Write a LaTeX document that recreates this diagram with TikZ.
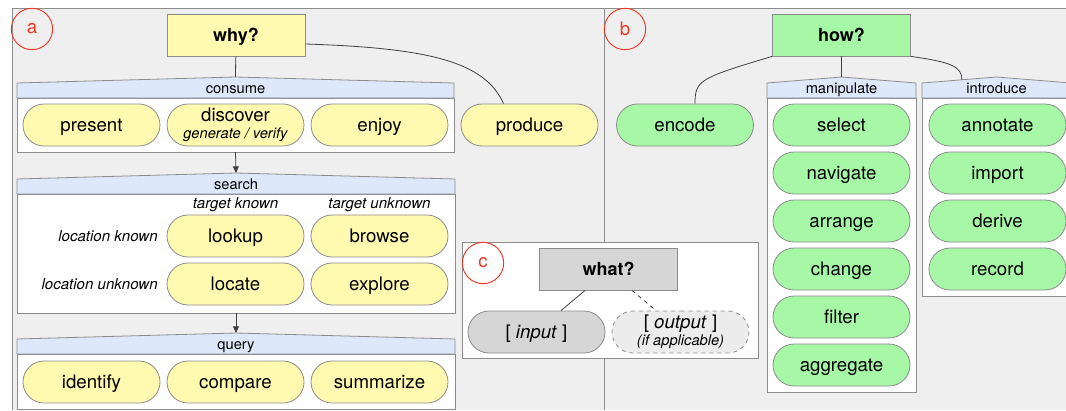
\documentclass[tikz,border=0pt]{standalone}
\usepackage{fontspec}
\setmainfont{TeX Gyre Heros}
\usetikzlibrary{shapes.misc,arrows.meta,calc}

\definecolor{bgGray}{RGB}{239,239,239}
\definecolor{whyYellow}{RGB}{255,250,175}
\definecolor{howGreen}{RGB}{166,247,166}
\definecolor{whatGray}{RGB}{214,214,214}
\definecolor{optGray}{RGB}{236,236,236}
\definecolor{hdrBlue}{RGB}{221,232,250}
\definecolor{edgeGray}{RGB}{140,140,140}
\definecolor{tagRed}{RGB}{240,55,35}

\tikzset{
  pill/.style={rounded rectangle, draw=edgeGray, line width=0.6pt, minimum width=102.75pt, minimum height=31.5pt, inner sep=0pt, align=center, text height=9pt, text depth=0pt, font=\fontsize{14}{16}\selectfont},
  two lines/.style={text height=, text depth=},
  ypill/.style={pill, fill=whyYellow},
  gpill/.style={pill, fill=howGreen},
  topbox/.style={draw=edgeGray, line width=0.6pt, minimum width=103.5pt, minimum height=31.5pt, inner sep=0pt, text height=9pt, text depth=0pt, font=\fontsize{13.5}{15}\selectfont\bfseries},
  grpline/.style={draw=edgeGray, line width=0.6pt},
  hdrtext/.style={inner sep=0pt, anchor=base, font=\fontsize{11}{13}\selectfont},
  note/.style={inner sep=0pt, font=\fontsize{11.3}{13}\selectfont\itshape},
  tag/.style={circle, draw=tagRed, line width=0.7pt, text=tagRed, minimum size=31pt, inner sep=0pt, font=\fontsize{14}{16}\selectfont},
  link/.style={draw=black!75, line width=0.6pt},
  step arrow/.style={link, -{Triangle[length=5pt,width=4.5pt]}},
}

\newcommand{\actgroup}[6]{%
  \draw[grpline, fill=white] (#2,#4+15) rectangle (#3,#5);
  \draw[grpline, fill=hdrBlue] (#2,#4) -- ({(#2+#3)/2},#4-6) -- (#3,#4) -- (#3,#4+15) -- (#2,#4+15) -- cycle;
  \node[hdrtext] (#1-label) at ({(#2+#3)/2},#4+10.5) {#6};
  \coordinate (#1-top) at ({(#2+#3)/2},#4-6);
  \coordinate (#1-bot) at ({(#2+#3)/2},#5);
}

\begin{document}
\begin{tikzpicture}[x=0.75pt, y=-0.75pt]
  \useasboundingbox (0,0) rectangle (1066,410);
  \clip (0,0) rectangle (1066,410);
  \fill[bgGray] (12,8) rectangle (1066,410);
  \draw[edgeGray] (12,410) -- (12,8) -- (1066,8);
  \draw[edgeGray] (604,8) -- (604,410);

  \node[tag] (tag-a) at (32,29) {a};
  \node[topbox, fill=whyYellow] (why) at (236,35) {why?};

  \actgroup{consume}{17}{454}{83}{152}{consume}
  \node[ypill] (present) at (91.5,125) {present};
  \node[ypill, two lines] (discover) at (235.5,125) {discover\\[-3pt]{\fontsize{11}{13}\selectfont\itshape generate / verify}};
  \node[ypill] (enjoy) at (379.5,125) {enjoy};
  \node[ypill] (produce) at (529.5,125) {produce};

  \actgroup{search}{17}{455}{179}{313}{search}
  \node[note] (tknown) at (235.5,205) {target known};
  \node[note] (tunknown) at (379.5,205) {target unknown};
  \node[note, anchor=east] (lknown) at (158,236) {location known};
  \node[note, anchor=east] (lunknown) at (158,284) {location unknown};
  \node[ypill] (lookup) at (235.5,236) {lookup};
  \node[ypill] (browse) at (379.5,236) {browse};
  \node[ypill] (locate) at (235.5,284) {locate};
  \node[ypill] (explore) at (379.5,284) {explore};

  \actgroup{query}{17}{455}{339}{409}{query}
  \node[ypill] (identify) at (91.5,382) {identify};
  \node[ypill] (compare) at (235.5,382) {compare};
  \node[ypill] (summarize) at (379.5,382) {summarize};

  \draw[link] (why) -- (consume-top);
  \draw[link] ($(why.east)+(0,9)$) .. controls (430,48) and (485,62) .. ($(produce.north)+(-26,0)$);
  \draw[step arrow] (consume-bot) -- (search-top);
  \draw[step arrow] (search-bot) -- (query-top);

  \node[tag] (tag-b) at (625,29) {b};
  \node[topbox, fill=howGreen] (how) at (841.5,35) {how?};
  \node[gpill] (encode) at (685,125) {encode};

  \actgroup{manipulate}{767}{916}{83}{392}{manipulate}
  \foreach \name [count=\i from 0] in {select,navigate,arrange,change,filter,aggregate}
    \node[gpill] (\name) at (841.5,125+48*\i) {\name};

  \actgroup{introduce}{922}{1071}{83}{296}{introduce}
  \foreach \name [count=\i from 0] in {annotate,import,derive,record}
    \node[gpill] (\name) at (997.5,125+48*\i) {\name};

  \draw[link] (how) -- (manipulate-top);
  \draw[link] (how.south west) .. controls (700,78) and (695,80) .. ($(encode.north)+(10,0)$);
  \draw[link] (how.south east) .. controls (950,62) and (962,66) .. (962,80);

  \draw[grpline, fill=white] (462,242) rectangle (758,358);
  \node[tag] (tag-c) at (483,263) {c};
  \node[topbox, fill=whatGray] (what) at (608.5,269) {what?};
  \node[pill, fill=whatGray] (input) at (536.5,332) {[ \textit{input} ]};
  \node[pill, two lines, fill=optGray, dashed] (output) at (680.5,332) {[ \textit{output} ]\\[-3pt]{\fontsize{11}{13}\selectfont\itshape (if applicable)}};
  \draw[link] ($(what.south)+(-23.5,0)$) -- ($(input.north)+(24.5,0)$);
  \draw[link, dashed] ($(what.south)+(23.5,0)$) -- ($(output.north)+(-24.5,0)$);
\end{tikzpicture}
\end{document}
